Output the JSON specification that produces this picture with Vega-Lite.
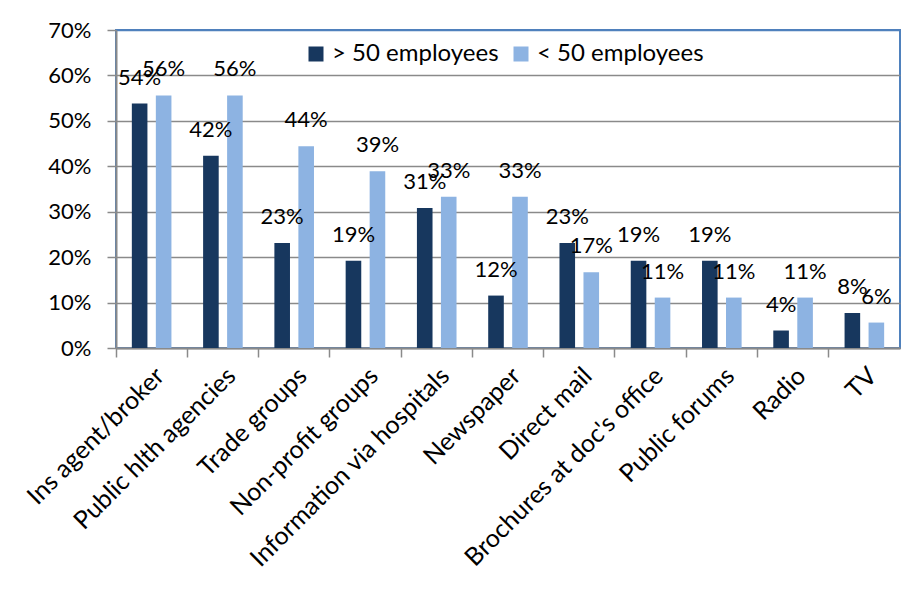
{
  "$schema": "https://vega.github.io/schema/vega-lite/v6.json",
  "width": 784,
  "height": 318,
  "autosize": {"type": "none"},
  "padding": {"left": 116, "top": 30, "right": 19, "bottom": 244},
  "background": "white",
  "config": {"view": {"stroke": "#4f81bd", "strokeWidth": 2}, "font": "Lato"},
  "data": {
    "values": [
      {"source": "Ins agent/broker", "group": "> 50 employees", "value": 0.538},
      {"source": "Ins agent/broker", "group": "< 50 employees", "value": 0.556},
      {"source": "Public hlth agencies", "group": "> 50 employees", "value": 0.423},
      {"source": "Public hlth agencies", "group": "< 50 employees", "value": 0.556},
      {"source": "Trade groups", "group": "> 50 employees", "value": 0.231},
      {"source": "Trade groups", "group": "< 50 employees", "value": 0.444},
      {"source": "Non-profit groups", "group": "> 50 employees", "value": 0.192},
      {"source": "Non-profit groups", "group": "< 50 employees", "value": 0.389},
      {"source": "Information via hospitals", "group": "> 50 employees", "value": 0.308},
      {"source": "Information via hospitals", "group": "< 50 employees", "value": 0.333},
      {"source": "Newspaper", "group": "> 50 employees", "value": 0.1154},
      {"source": "Newspaper", "group": "< 50 employees", "value": 0.333},
      {"source": "Direct mail", "group": "> 50 employees", "value": 0.231},
      {"source": "Direct mail", "group": "< 50 employees", "value": 0.167},
      {"source": "Brochures at doc's office", "group": "> 50 employees", "value": 0.192},
      {"source": "Brochures at doc's office", "group": "< 50 employees", "value": 0.111},
      {"source": "Public forums", "group": "> 50 employees", "value": 0.192},
      {"source": "Public forums", "group": "< 50 employees", "value": 0.111},
      {"source": "Radio", "group": "> 50 employees", "value": 0.0385},
      {"source": "Radio", "group": "< 50 employees", "value": 0.111},
      {"source": "TV", "group": "> 50 employees", "value": 0.077},
      {"source": "TV", "group": "< 50 employees", "value": 0.056}
    ]
  },
  "encoding": {
    "x": {
      "field": "source",
      "type": "nominal",
      "sort": null,
      "scale": {"paddingInner": 0, "paddingOuter": 0},
      "axis": {
        "title": null,
        "labelAngle": -45,
        "labelFontSize": 25,
        "labelColor": "black",
        "bandPosition": 0,
        "tickSize": 9,
        "tickColor": "#8a8a8a",
        "tickWidth": 1.5,
        "domainColor": "#8a8a8a",
        "domainWidth": 2,
        "labelPadding": 6,
        "labelLimit": 400,
        "grid": false
      }
    },
    "xOffset": {
      "field": "group",
      "sort": ["> 50 employees", "< 50 employees"],
      "scale": {"paddingInner": 0.35, "paddingOuter": 0.66}
    },
    "y": {
      "field": "value",
      "type": "quantitative",
      "scale": {"domain": [0, 0.7]},
      "axis": {
        "title": null,
        "format": ".0%",
        "values": [0, 0.1, 0.2, 0.3, 0.4, 0.5, 0.6, 0.7],
        "labelFontSize": 22,
        "labelColor": "black",
        "tickSize": 9,
        "tickColor": "#8a8a8a",
        "tickWidth": 1.5,
        "domainColor": "#8a8a8a",
        "domainWidth": 2,
        "gridColor": {"condition": {"test": "datum.value >= 0.7", "value": "#4f81bd"}, "value": "#8a8a8a"},
        "gridWidth": 1.5,
        "labelPadding": 16
      }
    }
  },
  "layer": [
    {
      "mark": {"type": "bar"},
      "encoding": {
        "color": {
          "field": "group",
          "type": "nominal",
          "scale": {"domain": ["> 50 employees", "< 50 employees"], "range": ["#17375e", "#8db3e2"]},
          "legend": {
            "title": null,
            "orient": "none",
            "legendX": 188,
            "legendY": 12,
            "direction": "horizontal",
            "symbolType": "square",
            "symbolSize": 225,
            "symbolStrokeWidth": 0,
            "labelFontSize": 24,
            "labelColor": "black",
            "labelLimit": 300,
            "columnPadding": 10
          }
        }
      }
    },
    {
      "mark": {"type": "text", "baseline": "alphabetic", "dy": -19, "fontSize": 22, "color": "black"},
      "encoding": {"text": {"field": "value", "type": "quantitative", "format": ".0%"}}
    }
  ]
}
